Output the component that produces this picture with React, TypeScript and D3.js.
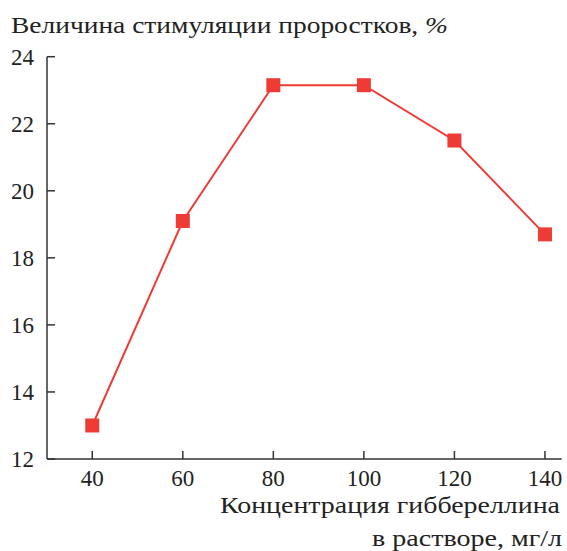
import React from 'react'
import * as d3 from 'd3'

const concentrations = [40, 60, 80, 100, 120, 140]
const stimulation = [13.0, 19.1, 23.15, 23.15, 21.5, 18.7]
const xTicks = [40, 60, 80, 100, 120, 140]
const yTicks = [12, 14, 16, 18, 20, 22, 24]

const width = 567
const height = 551
const red = '#ee3b36'
const axisColor = '#333'
const textColor = '#222'
const font = "'Liberation Serif', 'Times New Roman', Times, serif"

const App: React.FunctionComponent = () => {
  const xScale = d3.scaleLinear().domain([30, 143.7]).range([47, 561.7])
  const yScale = d3.scaleLinear().domain([12, 24]).range([459, 56.7])

  const points = concentrations.map((c, i) => [xScale(c), yScale(stimulation[i])] as [number, number])
  const line = d3.line()(points) || ''
  const size = 14

  return (
    <svg
      width={width}
      height={height}
      style={{ position: 'absolute', left: 0, top: 0, background: '#fff', fontFamily: font }}
    >
      {/* title */}
      <text x={11} y={33} fontSize={23} fill={textColor} textLength={437} lengthAdjust="spacingAndGlyphs">
        Величина стимуляции проростков, <tspan fontStyle="italic">%</tspan>
      </text>

      {/* y axis */}
      <line x1={xScale(30)} x2={xScale(30)} y1={yScale(24)} y2={yScale(12)} stroke={axisColor} strokeWidth={1.5} />
      {yTicks.map(t => (
        <g key={t} transform={`translate(0, ${yScale(t)})`}>
          <line x1={xScale(30)} x2={xScale(30) + 8} stroke={axisColor} strokeWidth={1.5} />
          <text x={34} dy="0.35em" textAnchor="end" fontSize={23} fill={textColor}>
            {t}
          </text>
        </g>
      ))}

      {/* x axis */}
      <line x1={xScale(30)} x2={xScale(143.7)} y1={yScale(12)} y2={yScale(12)} stroke={axisColor} strokeWidth={1.5} />
      {xTicks.map(t => (
        <g key={t} transform={`translate(${xScale(t)}, 0)`}>
          <line y1={yScale(12)} y2={yScale(12) - 8} stroke={axisColor} strokeWidth={1.5} />
          <text y={486} textAnchor="middle" fontSize={23} fill={textColor}>
            {t}
          </text>
        </g>
      ))}

      <text x={220} y={513} fontSize={23} fill={textColor} textLength={340} lengthAdjust="spacingAndGlyphs">
        Концентрация гиббереллина
      </text>
      <text x={372} y={546} fontSize={23} fill={textColor} textLength={190} lengthAdjust="spacingAndGlyphs">
        в растворе, мг/л
      </text>

      {/* data */}
      <path d={line} fill="none" stroke={red} strokeWidth={2} />
      {points.map(([x, y], i) => (
        <rect key={i} x={x - size / 2} y={y - size / 2} width={size} height={size} fill={red} />
      ))}
    </svg>
  )
}

export default App
